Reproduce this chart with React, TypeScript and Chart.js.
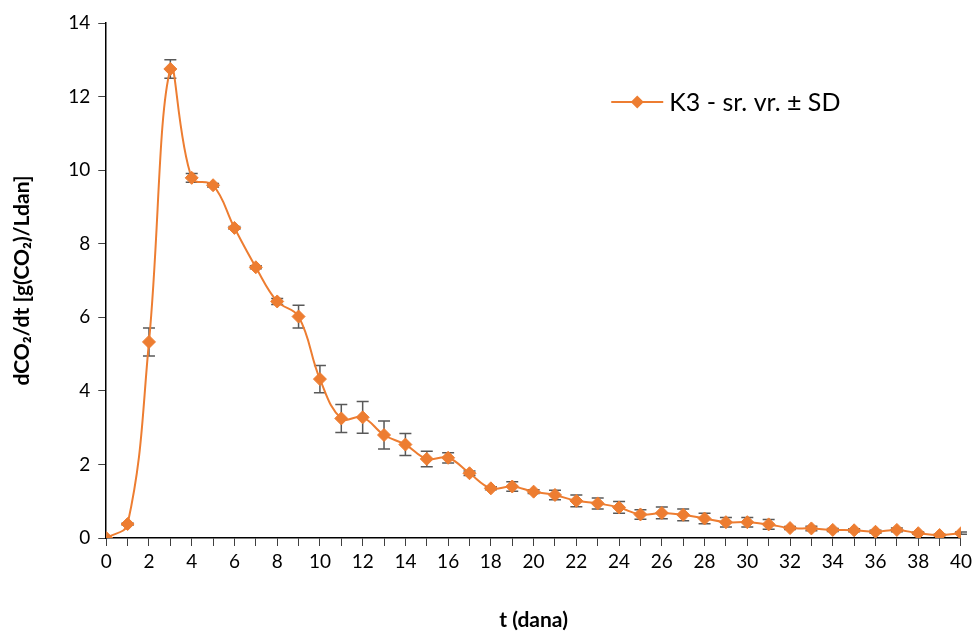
import React, { useEffect, useRef } from "react";
import { Chart, registerables } from "chart.js";

Chart.register(...registerables);

const days = Array.from({ length: 41 }, (_, i) => i);
const means = [
  0, 0.38, 5.33, 12.75, 9.79, 9.59, 8.43, 7.36, 6.43, 6.02,
  4.32, 3.25, 3.28, 2.8, 2.54, 2.15, 2.18, 1.76, 1.35, 1.4,
  1.26, 1.17, 1.01, 0.94, 0.83, 0.64, 0.68, 0.63, 0.53, 0.43,
  0.43, 0.37, 0.27, 0.26, 0.22, 0.21, 0.17, 0.22, 0.13, 0.08, 0.13,
];
const sds = [
  0, 0.03, 0.38, 0.25, 0.12, 0.05, 0.04, 0.04, 0.08, 0.31,
  0.37, 0.38, 0.43, 0.38, 0.3, 0.21, 0.14, 0.06, 0.04, 0.13,
  0.05, 0.13, 0.16, 0.15, 0.16, 0.13, 0.16, 0.16, 0.14, 0.13,
  0.13, 0.13, 0.04, 0.06, 0.04, 0.04, 0.04, 0.05, 0.03, 0.02, 0.03,
];
const seriesLabel = "K3 - sr. vr. ± SD";
const xTitle = "t (dana)";
const yTitle = "dCO₂/dt [g(CO₂)/Ldan]";

const ORANGE = "#ED7D31";
const FONT = "Lato, 'Noto Sans', 'DejaVu Sans', sans-serif";

const errorBarPlugin = {
  id: "errorBars",
  beforeDatasetsDraw(chart: any) {
    const { ctx, scales } = chart;
    const xs = scales.x;
    const ys = scales.y;
    ctx.save();
    ctx.strokeStyle = "#595959";
    ctx.lineWidth = 1.5;
    const cap = 6;
    days.forEach((d, i) => {
      const sd = sds[i];
      if (!sd) return;
      const x = xs.getPixelForValue(d);
      const yTop = ys.getPixelForValue(means[i] + sd);
      const yBot = ys.getPixelForValue(Math.max(0, means[i] - sd));
      ctx.beginPath();
      ctx.moveTo(x, yTop);
      ctx.lineTo(x, yBot);
      ctx.moveTo(x - cap, yTop);
      ctx.lineTo(x + cap, yTop);
      ctx.moveTo(x - cap, yBot);
      ctx.lineTo(x + cap, yBot);
      ctx.stroke();
    });
    ctx.restore();
  },
};

const legendPlugin = {
  id: "insideLegend",
  afterDraw(chart: any) {
    const { ctx, chartArea } = chart;
    const x0 = chartArea.left + 505;
    const y0 = chartArea.top + 79;
    ctx.save();
    ctx.strokeStyle = ORANGE;
    ctx.lineWidth = 2;
    ctx.beginPath();
    ctx.moveTo(x0, y0);
    ctx.lineTo(x0 + 52, y0);
    ctx.stroke();
    ctx.fillStyle = ORANGE;
    ctx.beginPath();
    const cx = x0 + 26;
    const r = 6.5;
    ctx.moveTo(cx, y0 - r);
    ctx.lineTo(cx + r, y0);
    ctx.lineTo(cx, y0 + r);
    ctx.lineTo(cx - r, y0);
    ctx.closePath();
    ctx.fill();
    ctx.fillStyle = "#000";
    ctx.font = `25px ${FONT}`;
    ctx.textBaseline = "middle";
    ctx.fillText(seriesLabel, x0 + 58, y0 + 1);
    ctx.restore();
  },
};

export default function App() {
  const ref = useRef<HTMLCanvasElement | null>(null);
  useEffect(() => {
    document.body.style.margin = "0";
    const canvas = ref.current;
    if (!canvas) return;
    const chart = new Chart(canvas, {
      type: "line",
      data: {
        datasets: [
          {
            label: seriesLabel,
            data: days.map((d, i) => ({ x: d, y: means[i] })),
            borderColor: ORANGE,
            backgroundColor: ORANGE,
            borderWidth: 2,
            pointStyle: "rectRot",
            pointRadius: 6.5,
            pointBorderWidth: 1,
            pointBackgroundColor: ORANGE,
            pointBorderColor: ORANGE,
            tension: 0.4,
            fill: false,
          },
        ],
      },
      options: {
        animation: false,
        responsive: false,
        maintainAspectRatio: false,
        layout: { padding: { left: 10, right: 14, top: 23, bottom: 0 } },
        plugins: {
          legend: { display: false },
          tooltip: { enabled: false },
        },
        scales: {
          x: {
            type: "linear",
            min: 0,
            max: 40,
            border: { color: "#000", width: 1.5 },
            grid: {
              display: true,
              drawOnChartArea: false,
              drawTicks: true,
              tickLength: 8,
              color: "#404040",
            },
            ticks: {
              stepSize: 1,
              autoSkip: false,
              maxRotation: 0,
              color: "#000",
              font: { family: FONT, size: 19 },
              padding: 4,
              callback: (v: any) => (Number(v) % 2 === 0 ? String(v) : ""),
            },
            title: {
              display: true,
              text: xTitle,
              color: "#000",
              font: { family: FONT, size: 21, weight: "bold" },
              padding: { top: 31, bottom: 0 },
            },
          },
          y: {
            min: 0,
            max: 14,
            border: { color: "#000", width: 1.5 },
            grid: {
              display: true,
              drawOnChartArea: false,
              drawTicks: true,
              tickLength: 8,
              color: "#404040",
            },
            ticks: {
              stepSize: 2,
              color: "#000",
              font: { family: FONT, size: 19 },
              padding: 8,
            },
            title: {
              display: true,
              text: yTitle,
              color: "#000",
              font: { family: FONT, size: 21, weight: "bold" },
              padding: { top: 0, bottom: 25 },
            },
          },
        },
      },
      plugins: [errorBarPlugin, legendPlugin],
    });
    return () => chart.destroy();
  }, []);
  return (
    <div style={{ width: 976, height: 633, background: "#fff" }}>
      <canvas ref={ref} width={976} height={633} style={{ display: "block" }} />
    </div>
  );
}
